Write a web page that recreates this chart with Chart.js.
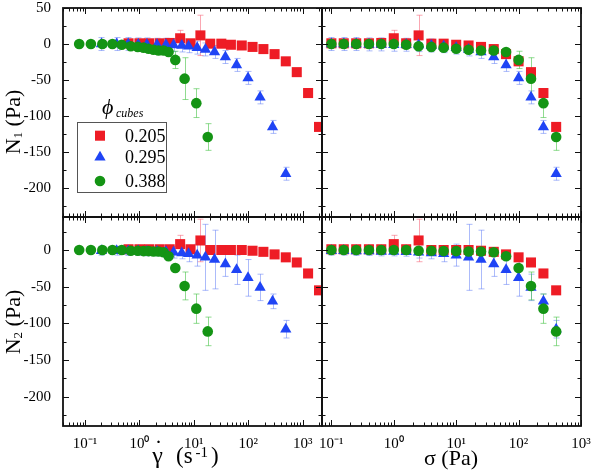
<!DOCTYPE html>
<html><head><meta charset="utf-8">
<script src="https://cdn.jsdelivr.net/npm/chart.js@4.4.1/dist/chart.umd.min.js"></script>
<style>html,body{margin:0;padding:0;background:#fff}#wrap{position:relative;width:593px;height:474px}</style>
</head><body><div id="wrap"><canvas id="c" width="593" height="474"></canvas></div>
<script>
// ---------------- data ----------------
const seriesLabels = ['0.205', '0.295', '0.388'];
// shear stress (Pa), shared by all three series in the right-hand panels
const stress = [0.1, 0.158, 0.25, 0.4, 0.63, 1, 1.58, 2.5, 4, 6.3, 10, 15.8, 25, 40, 63, 100, 158, 250, 400];

// phi = 0.205 (red squares)
const rateRed  = [0.63, 1.0, 1.5, 2.35, 3.6, 5.6, 8.7, 13.2, 20, 32, 48, 76, 120, 190, 305, 490, 780, 1260, 2000];
const n1Red    = [1, 1, 1, 1, 1.5, 8, 1, 12, 0.5, 0.5, -1, -2, -4, -7, -14, -24, -39, -68, -115];
const n1RedErr = [2, 2, 2, 2, 2, 11, 2, 28, 2, 2, 2, 2, 2, 2, 2, 2, 3, 5, 5];
const n2Red    = [1, 1, 1, 1, 1, 8, 1, 13, 0, 0, 0, 0, -1, -2.5, -6, -10, -17, -32, -55];
const n2RedErr = [2, 2, 2, 2, 2, 12, 2, 29, 2, 2, 2, 2, 2, 2, 2, 2, 2, 3, 3];

// phi = 0.295 (blue triangles)
const rateBlue  = [0.2, 0.38, 0.62, 0.95, 1.37, 2.1, 3.07, 4.24, 6.0, 8.0, 11.5, 16.3, 24, 38, 61, 99, 165, 280, 490];
const n1Blue    = [0, 0, 0, -0.5, -0.5, -1, -1, -1.5, -2, -3, -5, -7.5, -11, -18, -29, -47, -74, -115, -180];
const n1BlueErr = [9, 9, 9, 9, 9, 9, 9, 9, 9, 9, 9, 9, 9, 9, 9, 9, 9, 9, 9];
const n2Blue    = [-1, -1, -1.5, -1.5, -2, -2, -2.5, -3, -4, -5, -7, -10, -13, -19, -27, -38, -51, -70, -108];
const n2BlueErr = [6, 6, 6, 6, 6, 6, 6, 8, 8, 11, 15, 45, 40, 17, 20, 25, 18, 10, 12];

// phi = 0.388 (green circles); shear-rate data exist for the last 17 stress points
const rateGreen  = [0.078, 0.128, 0.208, 0.318, 0.473, 0.694, 0.93, 1.19, 1.47, 1.81, 2.24, 2.77, 3.43, 4.56, 6.76, 11.1, 18.0];
const n1Green    = [0, 0, 0, 0, 0, 0, -1, -3, -4, -5, -6.5, -8, -9, -9, -11, -22, -48, -82, -129];
const n1GreenErr = [2, 2, 2, 2, 2, 2, 2, 2, 2, 2, 2, 2, 2, 2, 3, 12, 29, 20, 18.5];
const n2Green    = [0, 0, 0, 0, 0, 0, 0, -1, -1, -1.5, -1.5, -2, -2, -3, -8.5, -24.5, -49, -80, -111];
const n2GreenErr = [2, 2, 2, 2, 2, 2, 2, 2, 2, 2, 2, 2, 2, 2, 3, 4, 19, 20, 19.5];

// tick labels
const xTickValues = [0.1, 1, 10, 100, 1000];
const xTickLabels = ['10\u207B\u00B9', '10\u2070', '10\u00B9', '10\u00B2', '10\u00B3'];
const yTicksN1 = [50, 0, -50, -100, -150, -200];
const yTicksN2 = [0, -50, -100, -150, -200];

// ---------------- build ----------------
const FF = "'Liberation Serif','Times New Roman',serif";
const series = [
  {label: seriesLabels[0], color: '#ee1c25', err: 'rgba(245,95,115,0.55)', style: 'rect', radius: 7.1, order: 2,
   rate: rateRed, n1: n1Red, n1Err: n1RedErr, n2: n2Red, n2Err: n2RedErr},
  {label: seriesLabels[1], color: '#1f44f5', err: 'rgba(90,120,245,0.5)', style: 'triangle', radius: 6.5, order: 1,
   rate: rateBlue, n1: n1Blue, n1Err: n1BlueErr, n2: n2Blue, n2Err: n2BlueErr},
  {label: seriesLabels[2], color: '#149414', err: 'rgba(70,195,70,0.6)', style: 'circle', radius: 5.3, order: 0,
   rate: rateGreen, n1: n1Green, n1Err: n1GreenErr, n2: n2Green, n2Err: n2GreenErr}
];
const panels = [
  {x: 'xL', y: 'yT', xs: 'rate', ys: 'n1'},
  {x: 'xR', y: 'yT', xs: 'stress', ys: 'n1'},
  {x: 'xL', y: 'yB', xs: 'rate', ys: 'n2'},
  {x: 'xR', y: 'yB', xs: 'stress', ys: 'n2'}
];
function pts(xs, ys) { const off = ys.length - xs.length; return xs.map((x, i) => ({x: x, y: ys[i + off]})); }
function errs(xs, es) { const off = es.length - xs.length; return xs.map((x, i) => es[i + off]); }

const datasets = [];
panels.forEach((p, pi) => series.forEach(s => {
  const xs = p.xs === 'rate' ? s.rate : stress;
  datasets.push({
    label: s.label, data: pts(xs, s[p.ys]), errors: errs(xs, s[p.ys + 'Err']), errColor: s.err,
    xAxisID: p.x, yAxisID: p.y, pointStyle: s.style, pointRadius: s.radius, pointHoverRadius: s.radius,
    backgroundColor: s.color, borderColor: s.color, borderWidth: 0, order: s.order, showLine: false
  });
}));

function fixFit(s) {
  if (s.isHorizontal()) s.height = 48; else s.width = 63;
  s.paddingLeft = 0; s.paddingRight = 0; s.paddingTop = 0; s.paddingBottom = 0;
}
const tickFont = {family: FF, size: 15};
function xScale(min, max) {
  return {
    type: 'logarithmic', position: 'bottom', stack: 'xs', stackWeight: 1, bounds: 'data', min: min, max: max,
    afterFit: fixFit,
    afterBuildTicks: s => { s.ticks = xTickValues.map(v => ({value: v})); },
    ticks: {font: tickFont, color: '#000', padding: 1, maxRotation: 0, minRotation: 0, autoSkip: false,
      callback: v => { const i = xTickValues.indexOf(v); return i >= 0 ? xTickLabels[i] : ''; }},
    grid: {display: false}, border: {display: false}
  };
}
function yScale(min, max, labels, weight) {
  return {
    type: 'linear', position: 'left', stack: 'ys', stackWeight: 1, weight: weight, bounds: 'data', min: min, max: max,
    afterFit: fixFit,
    afterBuildTicks: s => { s.ticks = labels.map(v => ({value: v})); },
    ticks: {font: tickFont, color: '#000', padding: 4, autoSkip: false, callback: v => String(v)},
    grid: {display: false}, border: {display: false}
  };
}

function logTicks(sc) {
  const out = [];
  const e0 = Math.floor(Math.log10(sc.min)), e1 = Math.ceil(Math.log10(sc.max));
  for (let e = e0; e <= e1; e++) for (let m = 1; m <= 9; m++) {
    const v = m * Math.pow(10, e);
    if (v >= sc.min && v <= sc.max) out.push({v: v, major: m === 1});
  }
  return out;
}
function linTicks(sc) {
  const out = [];
  for (let v = Math.ceil(sc.min / 25) * 25; v <= sc.max; v += 25) out.push({v: v, major: v % 50 === 0});
  return out;
}
function drawMarker(ctx, style, r, x, y, color) {
  ctx.fillStyle = color;
  if (Chart.helpers && Chart.helpers.drawPoint) {
    Chart.helpers.drawPoint(ctx, {pointStyle: style, radius: r, borderWidth: 0, rotation: 0}, x, y);
  }
}

const decor = {
  id: 'decor',
  beforeDatasetsDraw(chart) {
    const ctx = chart.ctx;
    chart.data.datasets.forEach(ds => {
      const xs = chart.scales[ds.xAxisID], ys = chart.scales[ds.yAxisID];
      ctx.save();
      ctx.beginPath(); ctx.rect(xs.left, ys.top, xs.right - xs.left, ys.bottom - ys.top); ctx.clip();
      ctx.strokeStyle = ds.errColor; ctx.lineWidth = 1;
      ds.data.forEach((d, j) => {
        const e = ds.errors[j];
        if (!e) return;
        const px = Math.round(xs.getPixelForValue(d.x)) + 0.5;
        const y1 = ys.getPixelForValue(d.y + e), y2 = ys.getPixelForValue(d.y - e);
        ctx.beginPath();
        ctx.moveTo(px, y1); ctx.lineTo(px, y2);
        ctx.moveTo(px - 3, y1); ctx.lineTo(px + 3, y1);
        ctx.moveTo(px - 3, y2); ctx.lineTo(px + 3, y2);
        ctx.stroke();
      });
      ctx.restore();
    });
  },
  afterDatasetsDraw(chart) {
    const ctx = chart.ctx;
    ctx.save();
    panels.forEach(p => {
      const xs = chart.scales[p.x], ys = chart.scales[p.y];
      const l = xs.left, r = xs.right, t = ys.top, b = ys.bottom;
      ctx.strokeStyle = '#111'; ctx.lineWidth = 1;
      ctx.beginPath();
      logTicks(xs).forEach(tk => {
        const px = Math.round(xs.getPixelForValue(tk.v)) + 0.5;
        const len = tk.major ? 6 : 3.5;
        ctx.moveTo(px, b); ctx.lineTo(px, b - len);
        ctx.moveTo(px, t); ctx.lineTo(px, t + len);
      });
      linTicks(ys).forEach(tk => {
        const py = Math.round(ys.getPixelForValue(tk.v)) + 0.5;
        const len = tk.major ? 6 : 3.5;
        ctx.moveTo(l, py); ctx.lineTo(l + len, py);
        ctx.moveTo(r, py); ctx.lineTo(r - len, py);
      });
      ctx.stroke();
      ctx.lineWidth = 1.8;
      ctx.strokeRect(l, t, r - l, b - t);
    });
    ctx.restore();
  },
  afterDraw(chart) {
    const ctx = chart.ctx;
    const xL = chart.scales.xL, xR = chart.scales.xR, yT = chart.scales.yT, yB = chart.scales.yB;
    ctx.save();
    ctx.fillStyle = '#000';
    ctx.textBaseline = 'alphabetic';
    // legend
    const L = xL.left + 14, T = yT.top + 114;
    ctx.strokeStyle = '#555'; ctx.lineWidth = 1;
    ctx.strokeRect(L + 0.5, T + 0.5, 89, 70);
    const rowY = [13.7, 35.3, 59];
    series.forEach((s, i) => {
      drawMarker(ctx, s.style, s.radius, L + 23, T + rowY[i], s.color);
      ctx.fillStyle = '#000';
      ctx.font = '18px ' + FF;
      ctx.textAlign = 'left';
      ctx.fillText(s.label, L + 48, T + rowY[i] + 6);
    });
    ctx.font = 'italic 22px ' + FF;
    ctx.fillText('\u03D5', L + 25, T - 8);
    ctx.font = 'italic 12px ' + FF;
    ctx.fillText('cubes', L + 39, T - 5);

    // y titles
    function yTitle(sub, cy) {
      ctx.save();
      ctx.translate(19.5, cy);
      ctx.rotate(-Math.PI / 2);
      const big = '22px ' + FF, small = '13px ' + FF;
      ctx.font = big; const wN = ctx.measureText('N').width, wP = ctx.measureText(' (Pa)').width;
      ctx.font = small; const wS = ctx.measureText(sub).width;
      let x = -(wN + wS + wP) / 2;
      ctx.textAlign = 'left';
      ctx.font = big; ctx.fillText('N', x, 0); x += wN;
      ctx.font = small; ctx.fillText(sub, x, 2); x += wS;
      ctx.font = big; ctx.fillText(' (Pa)', x, 0);
      ctx.restore();
    }
    yTitle('1', yT.top + 114);
    yTitle('2', yB.top + 105);

    // x titles
    const base = 463;
    const cxL = 187;
    ctx.textAlign = 'center';
    ctx.font = '24px ' + FF;
    ctx.fillText('\u03B3', cxL - 29.5, base);
    ctx.fillText('\u02D9', cxL - 28.5, base - 7);
    ctx.textAlign = 'left';
    ctx.font = '23px ' + FF; ctx.fillText('(s', cxL - 11, base);
    ctx.font = '15px ' + FF; ctx.fillText('-1', cxL + 8.5, base - 6);
    ctx.font = '23px ' + FF; ctx.fillText(')', cxL + 24, base);
    ctx.font = '22px ' + FF;
    ctx.textAlign = 'center';
    ctx.fillText('\u03C3 (Pa)', (xR.left + xR.right) / 2 - 0.5, base + 2);
    ctx.restore();
  }
};

Chart.defaults.font.family = FF;
new Chart(document.getElementById('c'), {
  type: 'scatter',
  data: {datasets: datasets},
  options: {
    responsive: false, animation: false, devicePixelRatio: 1,
    layout: {padding: {left: 0, top: 8, right: 12, bottom: 0}},
    plugins: {legend: {display: false}, tooltip: {enabled: false}},
    events: [],
    scales: {
      xL: xScale(0.0393, 2270),
      xR: xScale(0.0708, 1000),
      yT: yScale(-240, 50, yTicksN1, 1),
      yB: yScale(-240, 45, yTicksN2, 0)
    }
  },
  plugins: [decor]
});
</script>
</body></html>
